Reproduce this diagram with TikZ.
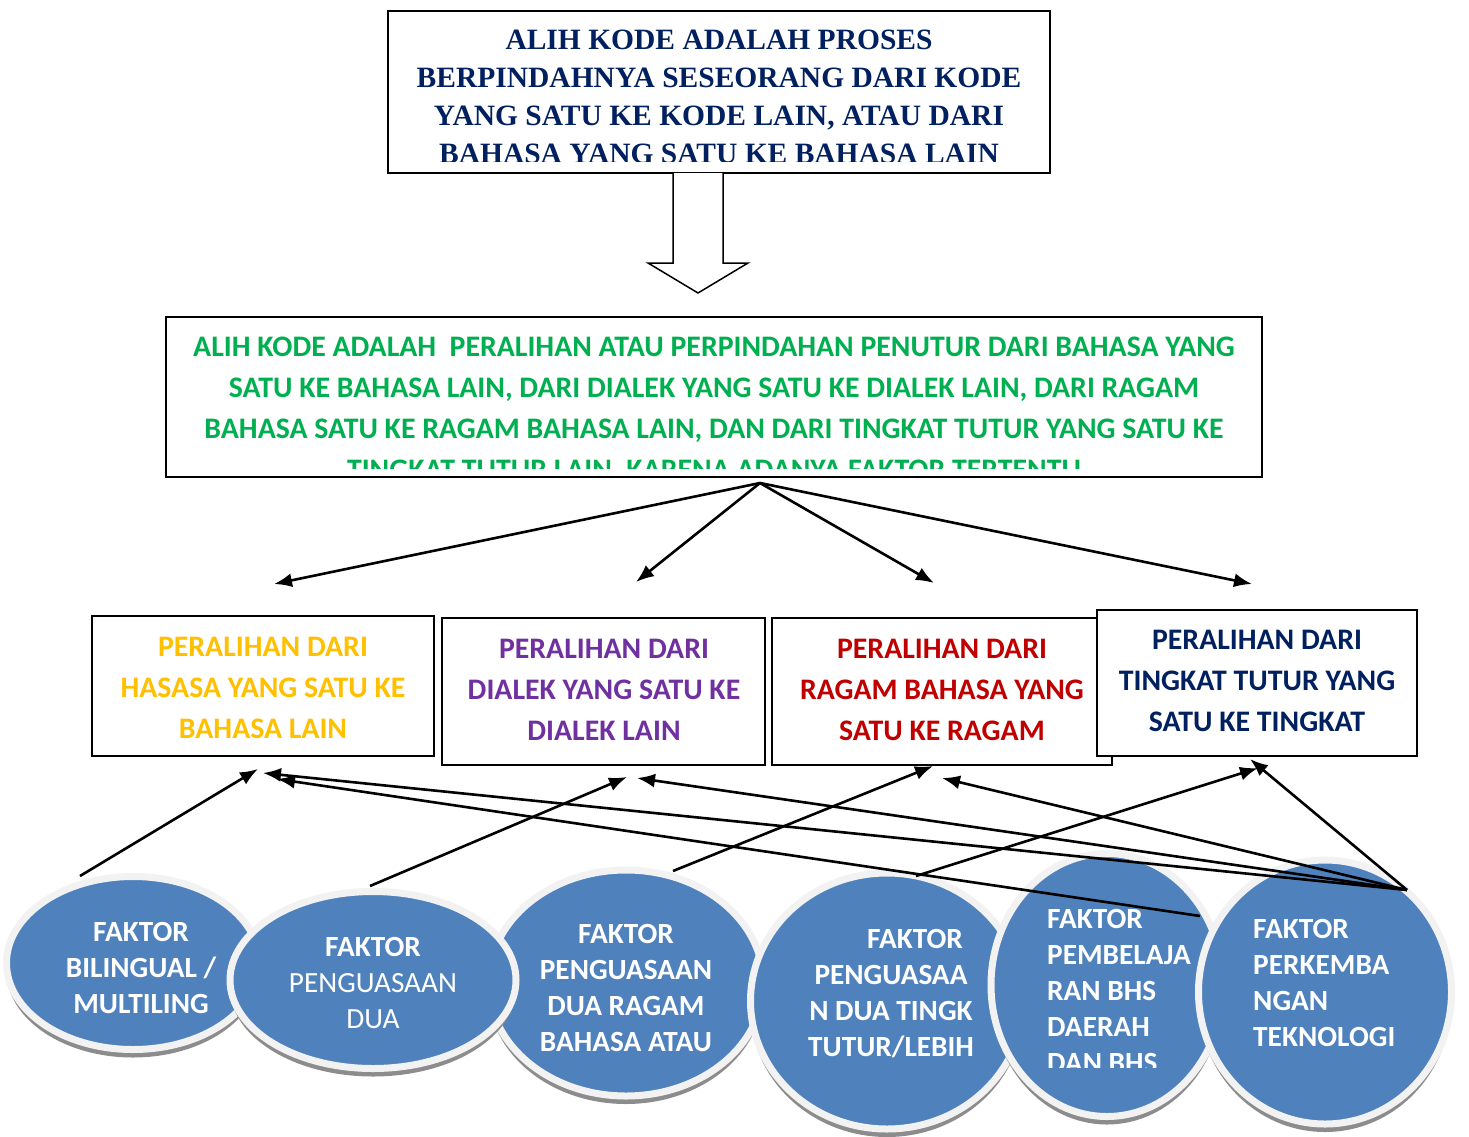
\documentclass[tikz,border=0pt]{standalone}
\usepackage{fontspec}
\setmainfont{Carlito}
\newfontfamily\timesfont{Liberation Serif}
\usetikzlibrary{shapes.geometric, arrows.meta, shadows}

\definecolor{navy}{HTML}{002060}
\definecolor{hijau}{HTML}{00B050}
\definecolor{kuning}{HTML}{FFC000}
\definecolor{ungu}{HTML}{7030A0}
\definecolor{merah}{HTML}{C00000}
\definecolor{biru}{HTML}{4F81BD}
\definecolor{tepi}{HTML}{F2F2F2}

\tikzset{
	kotak/.style={draw, line width=2pt, fill=white, inner sep=0pt},
	teks/.style={font=\fontsize{29.8}{41}\selectfont\bfseries, align=center, anchor=north, inner sep=0pt},
	faktor/.style={ellipse, draw=tepi, line width=7pt, fill=biru, inner sep=0pt,
		drop shadow={shadow xshift=0pt, shadow yshift=-8pt, fill=black!45, opacity=1}},
	fteks/.style={font=\fontsize{29.3}{36}\selectfont\bfseries, text=white, inner sep=0pt, anchor=north},
	panah/.style={-{Latex[length=18pt,width=14pt]}, line width=2.6pt},
}

\begin{document}
\begin{tikzpicture}[x=1pt, y=-1pt]
		\useasboundingbox (0,0) rectangle (1469,1137);
		% kotak atas
		\node[kotak, minimum width=662pt, minimum height=162pt] (proses) at (719,92) {};
		\begin{scope}
			\clip (388,11) rectangle (1050,161);
			\node[teks, font=\timesfont\fontsize{29.5}{38}\selectfont\bfseries, text=navy] (prosesteks) at (719,30) {ALIH KODE ADALAH PROSES\\BERPINDAHNYA SESEORANG DARI KODE\\YANG SATU KE KODE LAIN, ATAU DARI\\BAHASA YANG SATU KE BAHASA LAIN};
		\end{scope}
		\draw[line width=1.5pt, fill=white] (673,173) -- (673,263) -- (648,263) -- (698,293) -- (748,263) -- (723,263) -- (723,173);
		% kotak definisi
		\node[kotak, minimum width=1096pt, minimum height=160pt] (definisi) at (714,397) {};
		\begin{scope}
			\clip (166,317) rectangle (1262,468);
			\node[teks, text=hijau] (definisiteks) at (714,337) {ALIH KODE ADALAH~~PERALIHAN ATAU PERPINDAHAN PENUTUR DARI BAHASA YANG\\SATU KE BAHASA LAIN, DARI DIALEK YANG SATU KE DIALEK LAIN, DARI RAGAM\\BAHASA SATU KE RAGAM BAHASA LAIN, DAN DARI TINGKAT TUTUR YANG SATU KE\\TINGKAT TUTUR LAIN, KARENA ADANYA FAKTOR TERTENTU};
		\end{scope}
		% empat peralihan
		\node[kotak, minimum width=342pt, minimum height=140pt] (bahasa) at (263,686) {};
		\node[teks, text=kuning] (bahasateks) at (263,637) {PERALIHAN DARI\\HASASA YANG SATU KE\\BAHASA LAIN};
		\node[kotak, minimum width=323pt, minimum height=147pt] (dialek) at (603.5,691.5) {};
		\node[teks, text=ungu] (dialekteks) at (604,639) {PERALIHAN DARI\\DIALEK YANG SATU KE\\DIALEK LAIN};
		\node[kotak, minimum width=340pt, minimum height=147pt] (ragam) at (942,691.5) {};
		\node[teks, text=merah] (ragamteks) at (942,639) {PERALIHAN DARI\\RAGAM BAHASA YANG\\SATU KE RAGAM};
		\node[kotak, minimum width=320pt, minimum height=146pt] (tingkat) at (1257,683) {};
		\node[teks, text=navy] (tingkatteks) at (1257,630) {PERALIHAN DARI\\TINGKAT TUTUR YANG\\SATU KE TINGKAT};
		% panah dari definisi
		\coordinate (pusat) at (760,483);
		\coordinate (ke1) at (274,584);
		\coordinate (ke2) at (636,582);
		\coordinate (ke3) at (934,583);
		\coordinate (ke4) at (1252,584);
		\draw[panah] (pusat) -- (ke1);
		\draw[panah] (pusat) -- (ke2);
		\draw[panah] (pusat) -- (ke3);
		\draw[panah] (pusat) -- (ke4);
		% faktor-faktor
		\node[faktor, minimum width=253pt, minimum height=173pt] (bilingual) at (133,963) {};
		\node[faktor, minimum width=275pt, minimum height=226pt] (ragamf) at (626,983) {};
		\node[faktor, minimum width=286pt, minimum height=177pt] (penguasaan) at (373,980) {};
		\node[faktor, minimum width=273pt, minimum height=256pt] (tutur) at (887,1001) {};
		\node[faktor, minimum width=232pt, minimum height=263pt] (belajar) at (1107,985) {};
		\node[faktor, minimum width=253pt, minimum height=264pt] (teknologi) at (1325,992) {};
		\node[fteks, align=center] (bilingualteks) at (141,922) {FAKTOR\\BILINGUAL /\\MULTILING};
		\node[fteks, align=center] (penguasaanteks) at (373,937) {FAKTOR\\{\mdseries PENGUASAAN}\\{\mdseries DUA}};
		\node[fteks, align=center] (ragamfteks) at (626,924) {FAKTOR\\PENGUASAAN\\DUA RAGAM\\BAHASA ATAU};
		\node[fteks, align=center] (tuturteks) at (891,929) {\hspace*{48pt}FAKTOR\\PENGUASAA\\N DUA TINGK\\TUTUR/LEBIH};
		\begin{scope}
			\clip (990,850) rectangle (1230,1067);
			\node[fteks, align=left, anchor=north west] (belajarteks) at (1047,909) {FAKTOR\\PEMBELAJA\\RAN BHS\\DAERAH\\DAN BHS};
		\end{scope}
		\node[fteks, align=left, anchor=north west] (teknologiteks) at (1253,919) {FAKTOR\\PERKEMBA\\NGAN\\TEKNOLOGI};
		% panah dari faktor
		\coordinate (dari1) at (80,876);
		\coordinate (dari2) at (370,886);
		\coordinate (dari3) at (673,871);
		\coordinate (dari4) at (916,876);
		\coordinate (dari5) at (1200,916);
		\coordinate (dari6) at (1407,890);
		\coordinate (tuju1) at (258,769);
		\coordinate (tuju1b) at (277,779);
		\coordinate (tuju1c) at (263,773);
		\coordinate (tuju2) at (627,777);
		\coordinate (tuju2b) at (637,778);
		\coordinate (tuju3) at (933,766);
		\coordinate (tuju3b) at (942,778);
		\coordinate (tuju4) at (1258,768);
		\coordinate (tuju4b) at (1250,759);
		\draw[panah] (dari1) -- (tuju1);
		\draw[panah] (dari2) -- (tuju2);
		\draw[panah] (dari3) -- (tuju3);
		\draw[panah] (dari4) -- (tuju4);
		\draw[panah] (dari5) -- (tuju1b);
		\draw[panah] (dari6) -- (tuju1c);
		\draw[panah] (dari6) -- (tuju2b);
		\draw[panah] (dari6) -- (tuju3b);
		\draw[panah] (dari6) -- (tuju4b);
\end{tikzpicture}
\end{document}
